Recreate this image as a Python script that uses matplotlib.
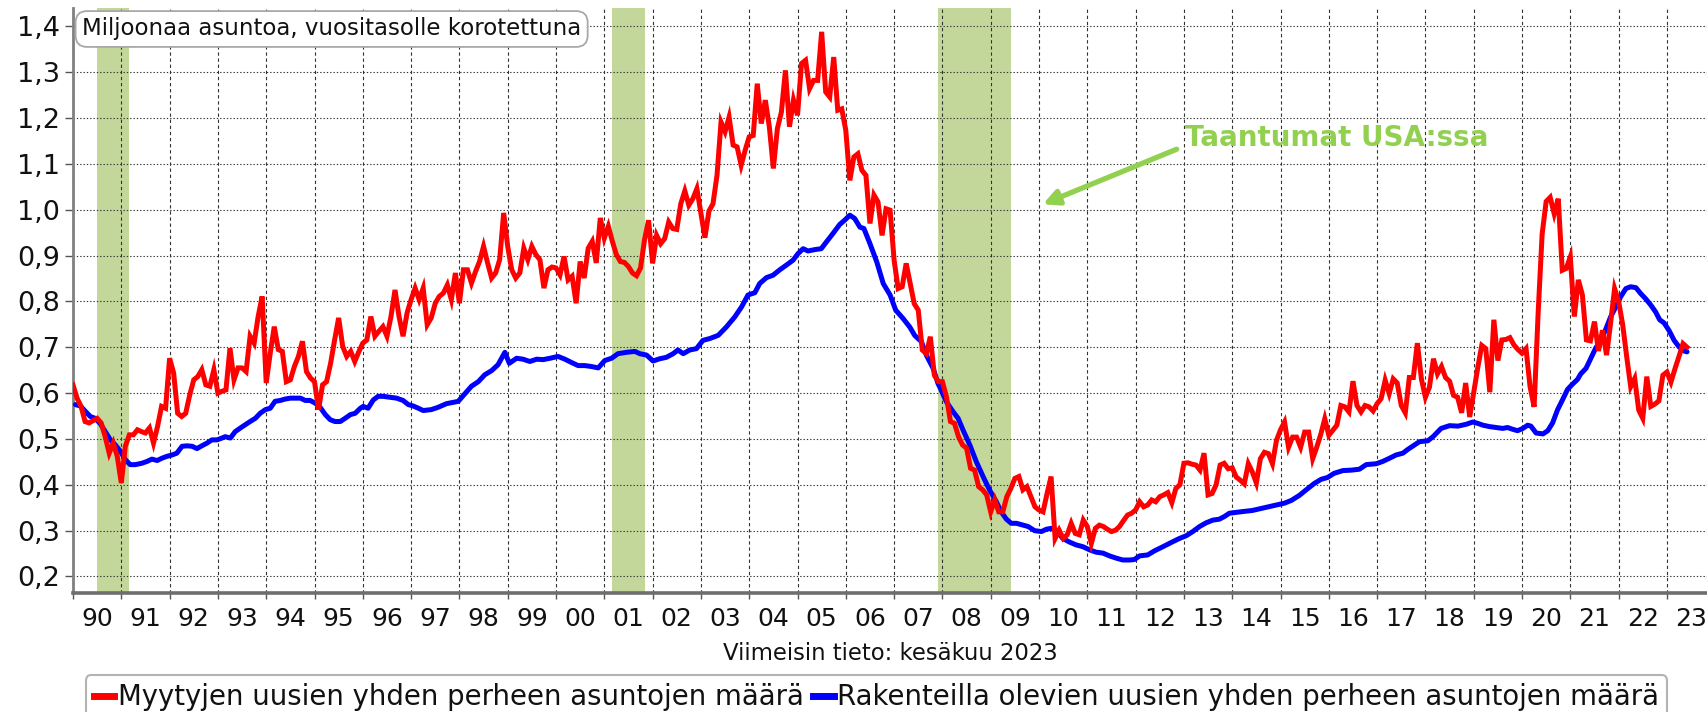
import numpy as np
import matplotlib
matplotlib.use("Agg")
import matplotlib.pyplot as plt
from matplotlib.ticker import FixedLocator, FuncFormatter, NullFormatter
from matplotlib.lines import Line2D

plt.rcParams['font.family'] = ['DejaVu Sans']

# ---------------- data ----------------
start_year = 1990
# Sold new single-family homes, millions (SAAR), monthly Jan 1990 - Jun 2023
sold = [
    0.618, 0.589, 0.571, 0.538, 0.535, 0.540, 0.545, 0.535, 0.505, 0.469, 0.491, 0.462,  # 1990
    0.404, 0.484, 0.509, 0.509, 0.520, 0.516, 0.513, 0.524, 0.491, 0.527, 0.571, 0.567,  # 1991
    0.676, 0.644, 0.556, 0.549, 0.556, 0.596, 0.629, 0.636, 0.651, 0.618, 0.615, 0.651,  # 1992
    0.600, 0.604, 0.607, 0.698, 0.629, 0.655, 0.655, 0.647, 0.724, 0.709, 0.767, 0.811,  # 1993
    0.622, 0.687, 0.745, 0.695, 0.691, 0.625, 0.629, 0.658, 0.680, 0.713, 0.647, 0.633,  # 1994
    0.625, 0.564, 0.618, 0.625, 0.665, 0.716, 0.764, 0.702, 0.680, 0.691, 0.669, 0.690,  # 1995
    0.709, 0.716, 0.767, 0.724, 0.735, 0.745, 0.724, 0.767, 0.825, 0.767, 0.724, 0.775,  # 1996
    0.804, 0.829, 0.804, 0.829, 0.749, 0.764, 0.796, 0.811, 0.818, 0.836, 0.804, 0.862,  # 1997
    0.796, 0.869, 0.869, 0.840, 0.865, 0.887, 0.920, 0.884, 0.851, 0.862, 0.891, 0.993,  # 1998
    0.920, 0.869, 0.851, 0.862, 0.916, 0.891, 0.920, 0.902, 0.891, 0.829, 0.869, 0.875,  # 1999
    0.873, 0.858, 0.898, 0.847, 0.855, 0.796, 0.887, 0.851, 0.916, 0.931, 0.884, 0.982,  # 2000
    0.938, 0.964, 0.931, 0.902, 0.887, 0.885, 0.876, 0.862, 0.856, 0.873, 0.935, 0.977,  # 2001
    0.883, 0.944, 0.926, 0.937, 0.973, 0.959, 0.957, 1.013, 1.041, 1.010, 1.024, 1.046,  # 2002
    0.992, 0.939, 0.997, 1.013, 1.075, 1.191, 1.170, 1.202, 1.141, 1.137, 1.097, 1.130,  # 2003
    1.159, 1.162, 1.275, 1.188, 1.239, 1.181, 1.090, 1.177, 1.213, 1.304, 1.181, 1.239,  # 2004
    1.206, 1.319, 1.326, 1.264, 1.282, 1.282, 1.388, 1.257, 1.246, 1.333, 1.217, 1.220,  # 2005
    1.173, 1.064, 1.115, 1.122, 1.086, 1.075, 0.970, 1.032, 1.017, 0.944, 1.002, 0.999,  # 2006
    0.890, 0.828, 0.832, 0.883, 0.839, 0.795, 0.781, 0.694, 0.686, 0.723, 0.639, 0.625,  # 2007
    0.625, 0.592, 0.538, 0.534, 0.505, 0.487, 0.480, 0.436, 0.432, 0.396, 0.389, 0.378,  # 2008
    0.341, 0.367, 0.341, 0.341, 0.374, 0.392, 0.414, 0.418, 0.389, 0.396, 0.374, 0.352,  # 2009
    0.345, 0.341, 0.381, 0.418, 0.283, 0.301, 0.283, 0.291, 0.316, 0.294, 0.291, 0.323,  # 2010
    0.309, 0.272, 0.305, 0.312, 0.309, 0.303, 0.298, 0.301, 0.309, 0.322, 0.334, 0.338,  # 2011
    0.345, 0.363, 0.352, 0.356, 0.367, 0.363, 0.374, 0.378, 0.383, 0.361, 0.392, 0.400,  # 2012
    0.447, 0.448, 0.445, 0.443, 0.432, 0.469, 0.378, 0.381, 0.400, 0.443, 0.447, 0.435,  # 2013
    0.437, 0.417, 0.410, 0.402, 0.446, 0.428, 0.404, 0.457, 0.471, 0.468, 0.446, 0.497,  # 2014
    0.520, 0.537, 0.482, 0.504, 0.504, 0.482, 0.515, 0.515, 0.457, 0.482, 0.510, 0.544,  # 2015
    0.508, 0.519, 0.530, 0.573, 0.570, 0.559, 0.626, 0.573, 0.559, 0.573, 0.570, 0.561,  # 2016
    0.577, 0.588, 0.628, 0.599, 0.631, 0.622, 0.573, 0.557, 0.634, 0.634, 0.709, 0.631,  # 2017
    0.591, 0.613, 0.675, 0.642, 0.658, 0.634, 0.626, 0.595, 0.591, 0.557, 0.622, 0.548,  # 2018
    0.602, 0.655, 0.704, 0.697, 0.602, 0.760, 0.671, 0.716, 0.717, 0.721, 0.705, 0.695,  # 2019
    0.687, 0.697, 0.614, 0.570, 0.773, 0.947, 1.018, 1.027, 0.991, 1.024, 0.868, 0.872,  # 2020
    0.897, 0.767, 0.847, 0.814, 0.716, 0.714, 0.756, 0.692, 0.737, 0.683, 0.752, 0.828,  # 2021
    0.800, 0.750, 0.680, 0.614, 0.632, 0.563, 0.545, 0.636, 0.571, 0.576, 0.583, 0.639,  # 2022
    0.646, 0.624, 0.653, 0.680, 0.708, 0.700,                                            # 2023
]

# Under construction new single-family homes, millions: (months since Jan 1990, value)
constr_month = [
    0.6, 1.8, 3.1, 4.3, 5.5, 6.8, 8.0, 9.3, 10.5, 11.8, 13.0, 14.2, 15.5, 17.1, 18.4, 19.6,
    20.9, 22.1, 23.3, 24.6, 25.8, 27.1, 28.3, 29.6, 30.8, 32.0, 33.3, 34.5, 35.8, 37.0, 37.8,
    39.1, 40.3, 41.6, 42.8, 44.0, 45.3, 46.5, 47.8, 49.0, 50.2, 51.5, 52.7, 54.0, 55.2, 56.5,
    57.7, 58.9, 60.2, 61.4, 62.7, 63.9, 65.1, 66.4, 67.6, 68.9, 70.1, 71.4,
    72.1, 73.3, 74.6, 75.8, 77.0, 78.7, 80.4, 82.0, 83.3, 84.5, 85.8, 87.0, 89.0, 90.7, 92.8,
    94.5, 95.7, 97.4, 99.0, 100.7, 102.3, 104.0, 105.6, 107.3, 108.4, 110.2, 111.8, 113.5,
    115.2, 116.8, 118.5, 120.5, 122.2, 123.8, 125.5, 127.2, 128.8, 130.5, 132.1, 133.8, 135.4,
    137.5, 139.6,
    140.8, 142.5, 144.1, 145.8, 147.4, 149.1, 150.3, 151.6, 153.2, 154.9, 156.5, 158.2, 160.3,
    162.3, 164.4, 166.1, 167.7, 169.4, 170.6, 172.3, 173.9, 175.6, 177.2, 178.9, 180.1, 181.4,
    182.6, 184.3, 185.9, 187.2, 188.8, 190.5, 191.7, 193.0, 194.2, 195.5, 196.5, 198.0, 199.7,
    201.3, 203.0, 204.4, 206.2, 207.9, 209.1, 210.8, 212.0, 213.7, 214.9,
    215.3, 217.0, 218.6, 219.9, 221.1, 222.8, 224.4, 226.1, 227.7, 229.4, 230.6, 231.9, 233.1,
    234.4, 236.0, 237.3, 238.9, 240.6, 241.8, 243.0, 244.3, 245.9, 247.6, 249.2, 250.9, 252.6,
    254.2, 255.9, 257.5, 259.2, 260.8, 262.5, 263.7, 265.0, 267.0, 268.7, 270.8, 272.8, 274.9,
    276.6, 278.2, 279.9, 281.5, 283.2, 284.8, 286.1, 287.3,
    290.0, 293.0, 296.0, 299.0, 301.0,
    302.7, 304.7, 306.8, 308.4, 310.1, 311.7, 313.3, 315.5, 317.6, 319.6, 321.3, 323.8, 325.4,
    327.1, 328.7, 330.4, 331.6, 333.3, 334.5, 336.6, 337.9, 339.9, 342.0, 344.1, 346.1, 347.8,
    349.0, 350.3,
    351.9, 353.6, 355.2, 356.4, 357.7, 358.9, 360.2, 361.4, 362.2, 363.5, 365.2, 366.4, 367.6,
    368.8, 370.1, 371.3, 372.6, 373.8, 374.6, 375.9, 377.1, 378.3, 379.6, 380.8, 382.0, 383.3,
    384.5, 385.8, 387.0, 388.3, 389.5, 390.7, 392.0, 393.2, 394.2, 395.3, 396.5, 397.8, 399.0,
    400.2, 401.0,
]
constr = [
    0.575, 0.572, 0.560, 0.549, 0.545, 0.533, 0.516, 0.498, 0.487, 0.473, 0.455, 0.444, 0.444,
    0.447, 0.451, 0.456, 0.453, 0.458, 0.462, 0.465, 0.469, 0.484, 0.485, 0.484, 0.479, 0.485,
    0.491, 0.498, 0.498, 0.502, 0.505, 0.502, 0.516, 0.524, 0.531, 0.538, 0.545, 0.556, 0.564,
    0.567, 0.582, 0.584, 0.587, 0.589, 0.589, 0.589, 0.584, 0.584, 0.578, 0.569, 0.553, 0.542,
    0.538, 0.538, 0.545, 0.553, 0.556, 0.567,
    0.571, 0.567, 0.585, 0.593, 0.593, 0.591, 0.589, 0.584, 0.575, 0.572, 0.567, 0.562, 0.564,
    0.569, 0.577, 0.580, 0.582, 0.599, 0.615, 0.625, 0.640, 0.649, 0.662, 0.689, 0.665, 0.676,
    0.674, 0.669, 0.674, 0.673, 0.676, 0.680, 0.674, 0.667, 0.660, 0.660, 0.658, 0.655, 0.671,
    0.676, 0.686, 0.689, 0.691,
    0.686, 0.683, 0.670, 0.675, 0.678, 0.686, 0.694, 0.686, 0.694, 0.697, 0.715, 0.719, 0.726,
    0.744, 0.766, 0.788, 0.814, 0.819, 0.839, 0.852, 0.857, 0.869, 0.879, 0.890, 0.904, 0.915,
    0.910, 0.913, 0.915, 0.930, 0.948, 0.968, 0.977, 0.988, 0.981, 0.962, 0.959, 0.926, 0.886,
    0.839, 0.814, 0.781, 0.763, 0.744, 0.726, 0.712, 0.683, 0.654, 0.621,
    0.614, 0.581, 0.560, 0.545, 0.520, 0.487, 0.451, 0.418, 0.389, 0.363, 0.341, 0.325, 0.316,
    0.316, 0.312, 0.309, 0.300, 0.298, 0.303, 0.305, 0.301, 0.283, 0.275, 0.269, 0.265, 0.258,
    0.253, 0.251, 0.245, 0.240, 0.236, 0.236, 0.237, 0.245, 0.247, 0.256, 0.265, 0.274, 0.283,
    0.289, 0.298, 0.309, 0.317, 0.323, 0.325, 0.331, 0.338,
    0.341, 0.344, 0.350, 0.356, 0.360,
    0.366, 0.377, 0.392, 0.403, 0.412, 0.416, 0.425, 0.431, 0.432, 0.434, 0.444, 0.446, 0.451,
    0.458, 0.465, 0.469, 0.477, 0.487, 0.494, 0.496, 0.505, 0.523, 0.529, 0.528, 0.532, 0.537,
    0.534, 0.530,
    0.527, 0.525, 0.523, 0.525, 0.521, 0.518, 0.523, 0.530, 0.528, 0.513, 0.511, 0.518, 0.535,
    0.563, 0.586, 0.608, 0.620, 0.630, 0.642, 0.654, 0.676, 0.698, 0.716, 0.739, 0.766, 0.788,
    0.810, 0.828, 0.832, 0.830, 0.817, 0.806, 0.792, 0.777, 0.760, 0.753, 0.737, 0.715, 0.701,
    0.692, 0.690,
]

# US recessions (start, end) as (year, month)
rec_start = [(1990, 7), (2001, 3), (2007, 12)]
rec_end = [(1991, 3), (2001, 11), (2009, 6)]

years = list(range(1990, 2024))
yticks = [0.2, 0.3, 0.4, 0.5, 0.6, 0.7, 0.8, 0.9, 1.0, 1.1, 1.2, 1.3, 1.4]

label_sold = "Myytyjen uusien yhden perheen asuntojen määrä"
label_constr = "Rakenteilla olevien uusien yhden perheen asuntojen määrä"
title_box = "Miljoonaa asuntoa, vuositasolle korotettuna"
xlabel = "Viimeisin tieto: kesäkuu 2023"
annot = "Taantumat USA:ssa"

# ---------------- plot ----------------
W, H = 1707, 712
fig = plt.figure(figsize=(W / 100, H / 100), dpi=100)
ax_l, ax_r, ax_t, ax_b = 73, 1707, 8, 593
ax = fig.add_axes([ax_l / W, 1 - ax_b / H, (ax_r - ax_l) / W, (ax_b - ax_t) / H])

x_sold = start_year + np.arange(len(sold)) / 12.0
x_constr = start_year + np.array(constr_month) / 12.0

rec_col = '#c4d79b'
for (ys, ms), (ye, me) in zip(rec_start, rec_end):
    ax.axvspan(ys + (ms - 1) / 12, ye + (me - 1) / 12, color=rec_col, lw=0, zorder=0.5)

ax.plot(x_constr, constr, color='#0000ff', lw=3.6, zorder=3, solid_capstyle='round', solid_joinstyle='round')
ax.plot(x_sold, sold, color='#ff0000', lw=3.6, zorder=4, solid_joinstyle='miter')

ax.set_xlim(1990, 2023.83)
ax.set_ylim(0.164, 1.440)

# x axis: ticks at year boundaries, labels mid-year
ax.xaxis.set_major_locator(FixedLocator(years + [2024]))
ax.xaxis.set_major_formatter(NullFormatter())
ax.xaxis.set_minor_locator(FixedLocator([y + 0.5 for y in years]))
ax.xaxis.set_minor_formatter(FuncFormatter(lambda v, p: f"{int(v) % 100:02d}"))
ax.tick_params(axis='x', which='major', length=4, width=1, color='#555555', direction='out')
ax.tick_params(axis='x', which='minor', length=0, labelsize=18, pad=10, labelcolor='#111111')

ax.yaxis.set_major_locator(FixedLocator(yticks))
ax.yaxis.set_major_formatter(FuncFormatter(lambda v, p: f"{v:.1f}".replace('.', ',')))
ax.tick_params(axis='y', which='major', length=5.5, width=1, color='#555555', labelsize=19.5, pad=4,
               labelcolor='#111111')

ax.grid(True, axis='y', which='major', color='#333333', lw=0.8, linestyle=(0, (1.2, 1.8)))
ax.grid(True, axis='x', which='major', color='#333333', lw=0.8, linestyle=(0, (3, 2.5)))

for s in ['top', 'right']:
    ax.spines[s].set_visible(False)
ax.spines['left'].set_color('#808080')
ax.spines['left'].set_linewidth(2.0)
ax.spines['bottom'].set_color('#6e6e6e')
ax.spines['bottom'].set_linewidth(2.6)

ax.set_xlabel(xlabel, fontsize=16.4, labelpad=8, color='#111111')

# title box
fig.text(82 / W, 1 - 29 / H, title_box, ha='left', va='center', fontsize=16.5, color='#111111',
         bbox=dict(boxstyle='round,pad=0.28,rounding_size=0.5', fc='white', ec='#a8a8a8', lw=1.3))

# recession annotation
green = '#92d050'
ax.annotate('', xy=(2010.08, 1.012), xytext=(2012.85, 1.132),
            arrowprops=dict(arrowstyle='-|>,head_length=0.9,head_width=0.45', color=green,
                            lw=3.8, shrinkA=0, shrinkB=0), zorder=5)
ax.text(2013.02, 1.156, annot, color=green, fontsize=20, fontweight='bold', ha='left', va='center',
        zorder=5)

# legend
handles = [Line2D([], [], color='#ff0000', lw=5), Line2D([], [], color='#0000ff', lw=5)]
leg = fig.legend(handles, [label_sold, label_constr], loc='upper center', ncol=2,
                 bbox_to_anchor=(876.5 / W, 1 - 675 / H), fontsize=19.8, frameon=True,
                 fancybox=True, edgecolor='#a0a0a0', handlelength=0.75, handletextpad=0.12,
                 columnspacing=0.35, borderpad=0.3, borderaxespad=0)
leg.get_frame().set_linewidth(1.5)
for t in leg.get_texts():
    t.set_color('#111111')

fig.savefig('out.png', dpi=100)
